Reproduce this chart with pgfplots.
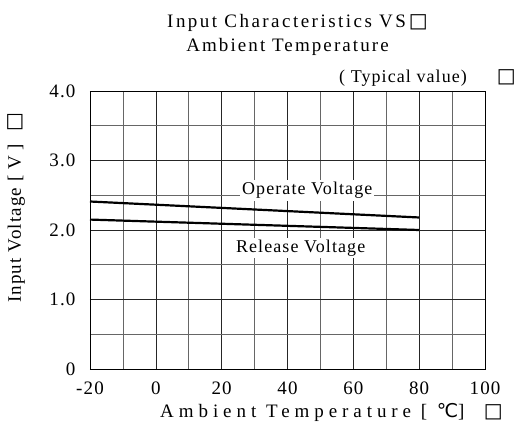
\documentclass[border=0pt]{standalone}
\usepackage{fontspec}
\setmainfont{Liberation Serif}[LetterSpace=6]
\newfontfamily\sym{DejaVu Sans}
\newcommand{\bx}{{\sym\fontsize{20}{20}\selectfont □}}
\usepackage{pgfplots}
\pgfplotsset{compat=1.18}
\begin{document}
\begin{tikzpicture}
\useasboundingbox (-90pt,-67pt) rectangle (427pt,369pt);
\begin{axis}[
    at={(0,0)}, anchor=south west,
    scale only axis,
    width=395pt, height=278pt,
    xmin=-20, xmax=100, ymin=0, ymax=4,
    xtick={-20,0,...,100},
    ytick={0,1,2,3,4},
    yticklabels={0,1.0,2.0,3.0,4.0},
    minor x tick num=1,
    minor y tick num=1,
    grid=both,
    major grid style={black!85, line width=0.6pt},
    minor grid style={black!60, line width=0.6pt},
    major tick length=0pt, minor tick length=0pt,
    axis line style={black, line width=0.8pt},
    tick label style={font=\fontsize{19}{21}\selectfont},
    /pgf/number format/assume math mode=true,
    xticklabel style={anchor=center, yshift=-19pt},
    yticklabel style={anchor=east, xshift=-11pt},
    clip=false,
]
\addplot[black, line width=2.2pt] coordinates {(-20,2.41) (80,2.18)};
\addplot[black, line width=2.2pt] coordinates {(-20,2.15) (80,2.00)};
\node[fill=white, inner sep=2pt, font=\fontsize{18}{20}\selectfont] at (axis cs:46,2.57) {Operate Voltage};
\node[fill=white, inner sep=2pt, font=\fontsize{18}{20}\selectfont] at (axis cs:44,1.74) {Release Voltage};
\node[anchor=base, font=\fontsize{19}{21}\selectfont] at ([yshift=63pt,xshift=10pt]rel axis cs:0.5,1) {\addfontfeatures{LetterSpace=13}Input Characteristics VS\hspace{3pt}\bx};
\node[font=\fontsize{19}{21}\selectfont] at ([yshift=44pt]rel axis cs:0.5,1) {\addfontfeatures{LetterSpace=11}Ambient Temperature};
\node[anchor=base east, font=\fontsize{18}{20}\selectfont, inner sep=0pt] at ([yshift=8pt,xshift=31pt]rel axis cs:1,1) {( Typical value)\hspace{30pt}\bx};
\node[anchor=base, font=\fontsize{19}{21}\selectfont] at ([yshift=-49pt,xshift=44pt]rel axis cs:0.5,0) {\addfontfeatures{LetterSpace=26}Ambient Temperature [ {\sym ℃}] \ \bx};
\node[anchor=base, rotate=90, font=\fontsize{19}{21}\selectfont] at ([xshift=-69pt,yshift=161pt]rel axis cs:0,0) {Input Voltage [ V ] \ \bx};
\end{axis}
\end{tikzpicture}
\end{document}
